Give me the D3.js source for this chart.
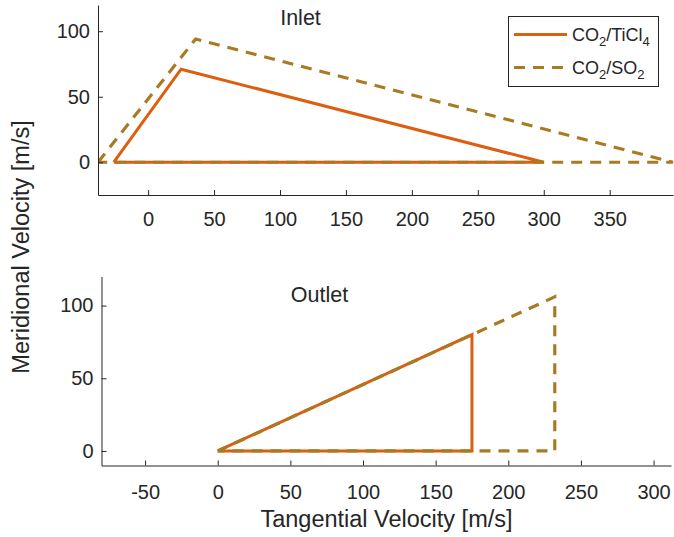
<!DOCTYPE html>
<html><head><meta charset="utf-8">
<script src="https://cdn.jsdelivr.net/npm/d3@7"></script>
<style>body{margin:0;background:#fff}svg{display:block}text{font-family:"Liberation Sans",Arial,sans-serif;fill:#262626}</style>
</head><body><svg id="c" width="674" height="537"></svg>
<script>
// ---- data ----
const seriesNames = ["CO2/TiCl4", "CO2/SO2"];
const inletTiCl4 = [[-26,0],[25,71],[300,0],[-26,0]];
const inletSO2   = [[-38,0],[36,94],[398,0],[-38,0]];
const outletTiCl4 = [[0,0],[175,80],[175,0],[0,0]];
const outletSO2   = [[0,0],[232,106],[232,0],[0,0]];
const inletXTicks = [0,50,100,150,200,250,300,350];
const inletYTicks = [0,50,100];
const outletXTicks = [-50,0,50,100,150,200,250,300];
const outletYTicks = [0,50,100];

const colors = ["#DC5F10", "#A97A22"];
const svg = d3.select("#c");
const fmt = d => String(d);

function panel(cfg){
  const x = d3.scaleLinear().domain(cfg.xd).range([cfg.l, cfg.r]);
  const y = d3.scaleLinear().domain(cfg.yd).range([cfg.b, cfg.t]);
  const g = svg.append("g");
  const id = "clip"+cfg.name;
  svg.append("clipPath").attr("id", id).append("rect")
    .attr("x", cfg.l).attr("y", cfg.t-4).attr("width", cfg.r-cfg.l+4).attr("height", cfg.b-cfg.t+4);
  const line = d3.line().x(d=>x(d[0])).y(d=>y(d[1]));
  const lg = g.append("g").attr("clip-path", `url(#${id})`);
  cfg.series.forEach((s,i)=>{
    lg.append("path").attr("d", line(s)).attr("fill","none")
      .attr("stroke", colors[i]).attr("stroke-width", i===0?3:3.2)
      .attr("stroke-linejoin","miter")
      .attr("stroke-dasharray", i===1?"11,8":null);
  });
  const xa = g.append("g").attr("transform",`translate(0,${cfg.b})`)
    .call(d3.axisBottom(x).tickValues(cfg.xt).tickFormat(fmt).tickSize(-5).tickPadding(cfg.xpad).tickSizeOuter(0));
  const ya = g.append("g").attr("transform",`translate(${cfg.l},0)`)
    .call(d3.axisLeft(y).tickValues(cfg.yt).tickFormat(fmt).tickSize(-5).tickPadding(8).tickSizeOuter(0));
  [xa,ya].forEach(a=>{
    a.attr("font-size",20).attr("font-family","Liberation Sans, Arial, sans-serif");
    a.selectAll("path,line").attr("stroke","#262626");
    a.select(".domain").attr("stroke-width",1);
    a.selectAll("text").attr("fill","#262626");
  });
  g.append("text").attr("x", cfg.titleX).attr("y", cfg.titleY).attr("text-anchor","middle")
    .attr("font-size",21.5).text(cfg.title);
  return {x,y};
}

panel({name:"in", xd:[-38,398], yd:[-25,120], l:98, r:673, t:5, b:195, xpad:17,
  xt:inletXTicks, yt:inletYTicks, series:[inletTiCl4, inletSO2],
  title:"Inlet", titleX:300.5, titleY:25});
panel({name:"out", xd:[-80,312], yd:[-10,120], l:101.5, r:671, t:276.5, b:465.5, xpad:19,
  xt:outletXTicks, yt:outletYTicks, series:[outletTiCl4, outletSO2],
  title:"Outlet", titleX:319.5, titleY:302});

// legend
const leg = svg.append("g");
leg.append("rect").attr("x",508.5).attr("y",16.5).attr("width",150).attr("height",70)
  .attr("fill","#fff").attr("stroke","#262626").attr("stroke-width",1);
const legParts = [["CO","2","/TiCl","4"],["CO","2","/SO","2"]];
legParts.forEach((p,i)=>{
  const yy = 34.5 + i*33;
  leg.append("line").attr("x1",514).attr("x2",567).attr("y1",yy).attr("y2",yy)
    .attr("stroke",colors[i]).attr("stroke-width",3).attr("stroke-dasharray", i===1?"11,8":null);
  const t = leg.append("text").attr("x",572).attr("y",yy+6.5).attr("font-size",18);
  t.append("tspan").text(p[0]);
  t.append("tspan").attr("dy",5).attr("font-size",13).text(p[1]);
  t.append("tspan").attr("dy",-5).text(p[2]);
  t.append("tspan").attr("dy",5).attr("font-size",13).text(p[3]);
});

// axis labels
svg.append("text").attr("x",386.5).attr("y",527).attr("text-anchor","middle").attr("font-size",23.5)
  .text("Tangential Velocity [m/s]");
svg.append("text").attr("transform","translate(28.5,247) rotate(-90)").attr("text-anchor","middle").attr("font-size",23.5)
  .text("Meridional Velocity [m/s]");
</script></body></html>
